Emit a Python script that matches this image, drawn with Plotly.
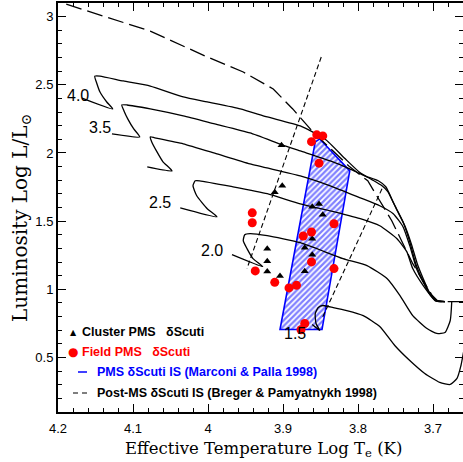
import plotly.graph_objects as go

# ---------------- data (log Te, log L) ----------------
# PMS evolutionary tracks (label connector + hook + track)
track_40_x = [4.168, 4.127, 4.135, 4.144, 4.148, 4.151, 4.144, 4.113, 4.077, 4.033, 4.001, 3.957, 3.921, 3.877,
              3.844, 3.817, 3.797, 3.781, 3.768, 3.760, 3.749, 3.737, 3.729, 3.721, 3.713, 3.704, 3.695, 3.684]
track_40_y = [2.403, 2.323, 2.374, 2.447, 2.506, 2.564, 2.564, 2.528, 2.491, 2.411, 2.374, 2.323, 2.264, 2.198,
              2.103, 1.957, 1.854, 1.803, 1.759, 1.715, 1.591, 1.459, 1.335, 1.188, 1.078, 0.969, 0.917, 0.910]

track_35_x = [4.128, 4.091, 4.099, 4.107, 4.112, 4.115, 4.108, 4.077, 4.033, 3.991, 3.944, 3.901, 3.877, 3.837,
              3.811, 3.791, 3.773, 3.763, 3.752, 3.740, 3.731, 3.723, 3.713, 3.704, 3.695, 3.684]
track_35_y = [2.140, 2.118, 2.176, 2.250, 2.308, 2.352, 2.352, 2.323, 2.272, 2.213, 2.147, 2.059, 2.015, 1.942,
              1.884, 1.832, 1.796, 1.752, 1.627, 1.496, 1.349, 1.188, 1.056, 0.961, 0.917, 0.910]

track_30_x = [4.081, 4.048, 4.060, 4.068, 4.075, 4.077, 4.071, 4.033, 3.988, 3.944, 3.877, 3.837, 3.797, 3.771,
              3.753, 3.740, 3.731, 3.721, 3.708, 3.697, 3.684]
track_30_y = [1.898, 1.869, 1.935, 2.008, 2.081, 2.118, 2.111, 2.067, 1.993, 1.920, 1.832, 1.759, 1.671, 1.613,
              1.554, 1.459, 1.320, 1.137, 1.005, 0.917, 0.910]

track_25_x = [4.037, 3.988, 4.001, 4.015, 4.020, 4.017, 4.011, 3.967, 3.921, 3.877, 3.837, 3.797, 3.771, 3.748,
              3.735, 3.727, 3.713, 3.697, 3.684]
track_25_y = [1.598, 1.532, 1.591, 1.686, 1.759, 1.796, 1.796, 1.752, 1.701, 1.627, 1.576, 1.518, 1.466, 1.371,
              1.276, 1.152, 1.027, 0.917, 0.910]

track_20_x = [3.968, 3.927, 3.940, 3.948, 3.953, 3.951, 3.944, 3.921, 3.877, 3.820, 3.788, 3.761, 3.744, 3.727,
              3.708, 3.695, 3.684, 3.677, 3.675]
track_20_y = [1.254, 1.166, 1.225, 1.298, 1.357, 1.400, 1.408, 1.393, 1.342, 1.225, 1.174, 1.078, 0.954, 0.807,
              0.712, 0.676, 0.683, 0.771, 0.910]

track_15_x = [3.861, 3.851, 3.856, 3.857, 3.853, 3.847, 3.833, 3.815, 3.793, 3.771, 3.751, 3.731, 3.711, 3.691,
              3.677, 3.668, 3.663, 3.656]
track_15_y = [0.742, 0.698, 0.749, 0.822, 0.866, 0.881, 0.866, 0.844, 0.807, 0.727, 0.588, 0.478, 0.383, 0.317,
              0.302, 0.346, 0.434, 0.639]

track_labels = ["4.0", "3.5", "2.5", "2.0", "1.5"]
track_label_x = [4.174, 4.144, 4.064, 3.995, 3.884]
track_label_y = [2.425, 2.184, 1.635, 1.283, 0.676]

# long-dashed birthline / ZAMS
birth_x = [4.189, 4.077, 4.001, 3.953, 3.913, 3.887, 3.860, 3.811, 3.787, 3.755, 3.727, 3.701, 3.693, 3.660]
birth_y = [3.091, 2.894, 2.704, 2.594, 2.469, 2.323, 2.154, 1.898, 1.796, 1.503, 1.188, 0.954, 0.910, 0.910]

# Post-MS delta Scuti instability strip (Breger & Pamyatnykh 1998)
bp_blue_x = [3.849, 3.948]
bp_blue_y = [2.704, 1.152]
bp_red_x = [3.768, 3.848]
bp_red_y = [1.737, 0.786]

# PMS delta Scuti instability strip (Marconi & Palla 1998)
mp_x = [3.857, 3.851, 3.811, 3.848, 3.904, 3.857]
mp_y = [2.081, 2.103, 1.869, 0.705, 0.705, 2.081]

# Cluster PMS delta Scuti stars
cluster_x = [3.902, 3.901, 3.911, 3.861, 3.852, 3.847, 3.861, 3.871, 3.861, 3.871, 3.921, 3.921, 3.921, 3.904]
cluster_y = [2.056, 1.759, 1.712, 1.605, 1.626, 1.547, 1.371, 1.305, 1.254, 1.133, 1.298, 1.205, 1.130, 1.097]

# Field PMS delta Scuti stars
field_x = [3.855, 3.847, 3.862, 3.852, 3.941, 3.941, 3.832, 3.873, 3.862, 3.862, 3.832, 3.937, 3.911, 3.892,
           3.882, 3.871, 3.876]
field_y = [2.133, 2.125, 2.083, 1.925, 1.561, 1.488, 1.481, 1.391, 1.420, 1.201, 1.152, 1.135, 1.051, 1.010,
           1.029, 0.749, 0.703]

x_tickvals = [4.2, 4.1, 4.0, 3.9, 3.8, 3.7]
x_ticktext = ["4.2", "4.1", "4", "3.9", "3.8", "3.7"]
y_tickvals = [0.5, 1.0, 1.5, 2.0, 2.5, 3.0]
y_ticktext = ["0.5", "1", "1.5", "2", "2.5", "3"]

legend_labels = ["Cluster PMS\u00a0\u00a0\u00a0δScuti", "Field PMS\u00a0\u00a0\u00a0δScuti",
                 "PMS δScuti IS (Marconi & Palla 1998)",
                 "Post-MS δScuti IS (Breger & Pamyatnykh 1998)"]

BLUE = "#0000ff"

# ---------------- figure ----------------
fig = go.Figure()

fig.add_trace(go.Scatter(x=mp_x, y=mp_y, mode="lines", fill="toself",
                         fillpattern=dict(shape="/", fgcolor=BLUE, bgcolor="white", size=4, solidity=0.55),
                         line=dict(color=BLUE, width=1.6), showlegend=False, hoverinfo="skip"))

for tx, ty in [(track_40_x, track_40_y), (track_35_x, track_35_y), (track_30_x, track_30_y),
               (track_25_x, track_25_y), (track_20_x, track_20_y), (track_15_x, track_15_y)]:
    fig.add_trace(go.Scatter(x=tx, y=ty, mode="lines",
                             line=dict(color="black", width=1.3, shape="spline", smoothing=0.5),
                             showlegend=False))

fig.add_trace(go.Scatter(x=birth_x, y=birth_y, mode="lines",
                         line=dict(color="black", width=1.3, dash="16px,6px"), showlegend=False))
for bx, by in [(bp_blue_x, bp_blue_y), (bp_red_x, bp_red_y)]:
    fig.add_trace(go.Scatter(x=bx, y=by, mode="lines",
                             line=dict(color="black", width=1.1, dash="5px,3px"), showlegend=False))

fig.add_trace(go.Scatter(x=cluster_x, y=cluster_y, mode="markers",
                         marker=dict(symbol="triangle-up", size=7, color="black"), showlegend=False))
fig.add_trace(go.Scatter(x=field_x, y=field_y, mode="markers",
                         marker=dict(symbol="circle", size=9, color="#ff0000"), showlegend=False))

annotations = []
for lab, lx, ly in zip(track_labels, track_label_x, track_label_y):
    annotations.append(dict(x=lx, y=ly, xref="x", yref="y", text=lab, showarrow=False,
                            xanchor="center", yanchor="middle",
                            font=dict(family="Liberation Sans", size=16, color="black")))

# legend (manual)
W, H = 405.0, 409.0
def px(xp):
    return (xp - 58) / W
def py(yp):
    return (412 - yp) / H

def ann(x, y, text, font, xanchor="center", **kw):
    d = dict(x=px(x), y=py(y), xref="paper", yref="paper", text=text, showarrow=False,
             xanchor=xanchor, yanchor="middle", font=font)
    d.update(kw)
    return d

annotations += [
    ann(73, 332, "▲", dict(family="DejaVu Sans", size=8, color="black")),
    ann(73, 352, "●", dict(family="DejaVu Sans", size=12, color="#ff0000")),
    ann(80, 332, "<b>" + legend_labels[0] + "</b>", dict(family="Liberation Sans", size=12.5, color="black"), "left"),
    ann(80, 352, "<b>" + legend_labels[1] + "</b>", dict(family="Liberation Sans", size=12.5, color="#ff0000"), "left"),
    ann(95, 372, "<b>" + legend_labels[2] + "</b>", dict(family="Liberation Sans", size=12.5, color=BLUE), "left"),
    ann(95, 393, "<b>" + legend_labels[3] + "</b>", dict(family="Liberation Sans", size=12.5, color="black"), "left"),
    # axis titles
    ann(263, 449, "Effective Temperature Log T<sub>e</sub> (K)",
        dict(family="DejaVu Serif", size=16.5, color="black")),
    ann(21, 218, "Luminosity Log L/L<sub>⊙</sub>",
        dict(family="DejaVu Serif", size=20, color="black"), textangle=-90),
]

shapes = [
    dict(type="line", xref="paper", yref="paper", x0=px(78), x1=px(87), y0=py(372), y1=py(372),
         line=dict(color=BLUE, width=1.5)),
    dict(type="line", xref="paper", yref="paper", x0=px(73), x1=px(87), y0=py(393), y1=py(393),
         line=dict(color="black", width=1.1, dash="5px,4px")),
]

fig.update_layout(
    width=463, height=462,
    margin=dict(l=58, r=0, t=3, b=50, pad=0, autoexpand=False),
    paper_bgcolor="white", plot_bgcolor="white",
    annotations=annotations, shapes=shapes,
    font=dict(family="Liberation Sans", size=13, color="black"),
    xaxis=dict(range=[4.2, 3.66], tickmode="array", tickvals=x_tickvals, ticktext=x_ticktext,
               ticks="inside", ticklen=8, tickwidth=1.2, tickcolor="black", automargin=False,
               showline=True, linecolor="black", linewidth=2, mirror="allticks",
               showgrid=False, zeroline=False, ticklabelstandoff=3,
               tickfont=dict(family="Liberation Sans", size=13, color="black"),
               minor=dict(tickmode="linear", tick0=3.6, dtick=0.02, ticks="inside", ticklen=4,
                          tickcolor="black", tickwidth=1, showgrid=False)),
    yaxis=dict(range=[0.1, 3.1], tickmode="array", tickvals=y_tickvals, ticktext=y_ticktext,
               ticks="inside", ticklen=8, tickwidth=1.2, tickcolor="black", automargin=False,
               showline=True, linecolor="black", linewidth=2, mirror="ticks",
               showgrid=False, zeroline=False,
               tickfont=dict(family="Liberation Sans", size=13, color="black"),
               minor=dict(tickmode="linear", tick0=0, dtick=0.1, ticks="inside", ticklen=4,
                          tickcolor="black", tickwidth=1, showgrid=False)),
)

fig.write_html("out.html", config={"displayModeBar": False},
               post_script="document.body.style.margin='0';document.body.style.overflow='hidden';")
